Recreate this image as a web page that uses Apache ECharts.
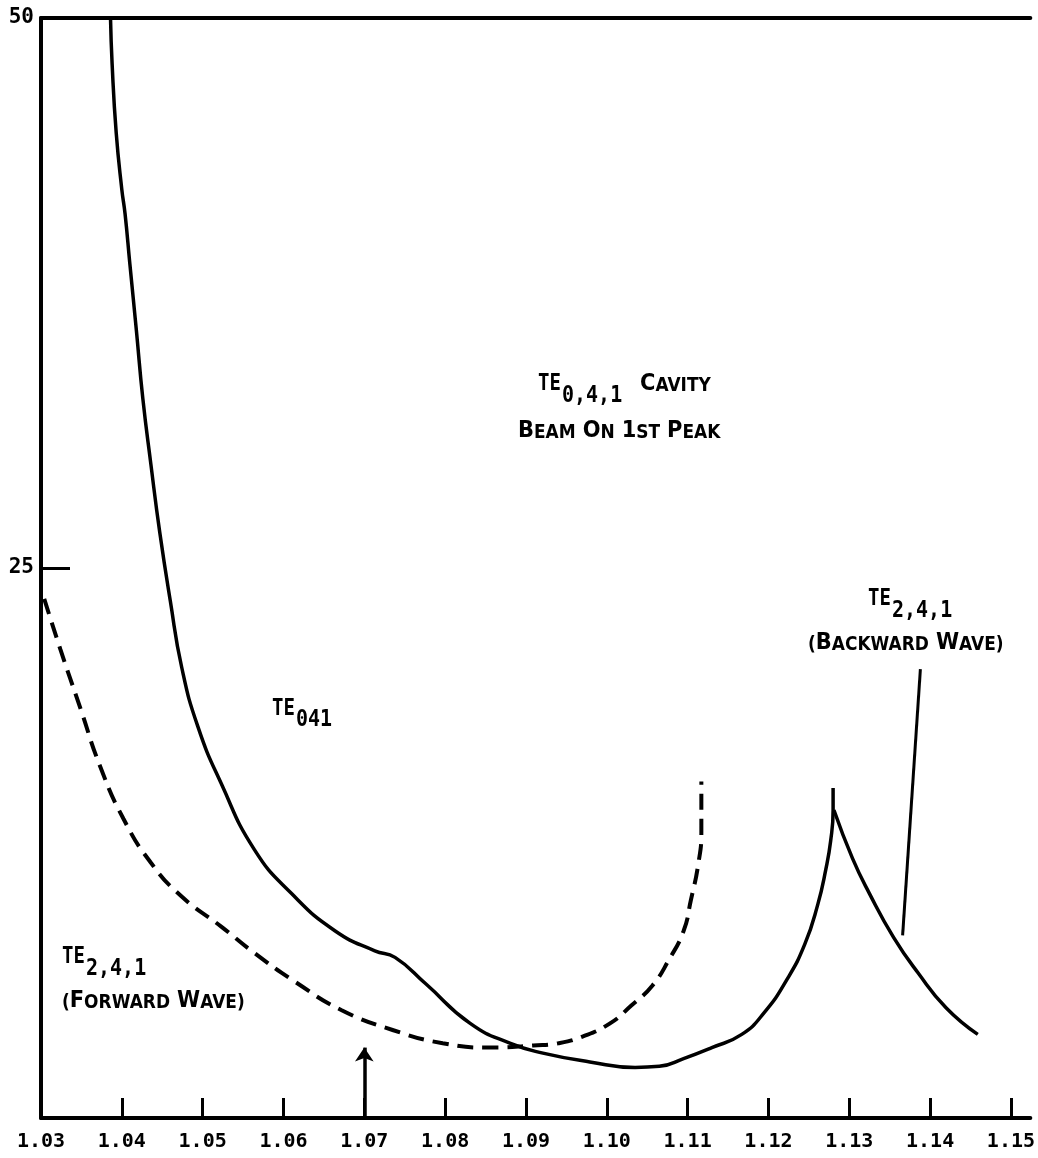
<!DOCTYPE html>
<html>
<head>
<meta charset="utf-8">
<script src="https://cdn.jsdelivr.net/npm/echarts@6/dist/echarts.min.js"></script>
<style>
  html, body { margin: 0; padding: 0; background: #fff; }
  #chart { width: 1038px; height: 1158px; }
</style>
</head>
<body>
<div id="chart"></div>
<script>
// ---- data ----
const xTickValues = [1.04, 1.05, 1.06, 1.07, 1.08, 1.09, 1.10, 1.11, 1.12, 1.13, 1.14, 1.15];
const xLabelValues = [1.03, 1.04, 1.05, 1.06, 1.07, 1.08, 1.09, 1.10, 1.11, 1.12, 1.13, 1.14, 1.15];
const xTickLabels = ['1.03', '1.04', '1.05', '1.06', '1.07', '1.08', '1.09', '1.10', '1.11', '1.12', '1.13', '1.14', '1.15'];
const yTickValues = [25];
const yLabelValues = [25, 50];
const yTickLabels = ['25', '50'];

// TE041 (solid), ends in the spike near 1.128
const te041X = [1.0386, 1.0388, 1.0393, 1.0400, 1.0404, 1.0410, 1.0418, 1.0426, 1.0436, 1.0447, 1.0460, 1.0474, 1.0494, 1.0523, 1.0564, 1.0610, 1.0664, 1.0713, 1.0738, 1.0776, 1.0831, 1.0880, 1.0921, 1.0979, 1.1035, 1.1065, 1.1095, 1.1130, 1.1167, 1.1195, 1.1223, 1.1245, 1.1261, 1.1271, 1.1277, 1.1280, 1.1280];
const te041Y = [50, 47.9, 44.8, 42.2, 41.1, 38.8, 35.8, 32.7, 29.7, 26.6, 23.5, 20.5, 17.8, 15.2, 12.2, 10.2, 8.5, 7.6, 7.3, 6.1, 4.3, 3.4, 2.95, 2.55, 2.3, 2.35, 2.7, 3.2, 3.8, 4.8, 6.3, 7.9, 9.7, 11.3, 12.6, 14.0, 15.0];

// TE2,4,1 backward wave (solid, right branch)
const te241bX = [1.1281, 1.1304, 1.1325, 1.1355, 1.1385, 1.1420, 1.1459];
const te241bY = [14.0, 11.8, 10.2, 8.2, 6.6, 5.0, 3.8];

// TE2,4,1 forward wave (dashed)
const te241fX = [1.0304, 1.0324, 1.0349, 1.0373, 1.0402, 1.0436, 1.0473, 1.0523, 1.0564, 1.0614, 1.0672, 1.0735, 1.0797, 1.0859, 1.0909, 1.0940, 1.0970, 1.1004, 1.1030, 1.1056, 1.1077, 1.1095, 1.1104, 1.1113, 1.1117, 1.1117];
const te241fY = [23.6, 21.3, 18.6, 16.0, 13.6, 11.6, 10.1, 8.7, 7.5, 6.2, 4.9, 4.0, 3.4, 3.2, 3.3, 3.4, 3.7, 4.3, 5.1, 6.0, 7.2, 8.5, 9.9, 11.5, 13.0, 15.3];

// arrow at beam position and leader line to backward-wave label
const arrowX = 1.07;
const arrowY = [0, 3.2];
const leaderX = [1.1366, 1.1388];
const leaderY = [8.3, 20.4];

// ---- chart ----
const MONO = '"DejaVu Sans Mono", "Liberation Mono", monospace';
const SANS = '"DejaVu Sans", "Liberation Sans", sans-serif';
const zip = (xs, ys) => xs.map((x, i) => [x, ys[i]]);

const bigS = { fontFamily: SANS, fontWeight: 'bold', fontSize: 21, color: '#000', verticalAlign: 'bottom', lineHeight: 24 };
const smS = { fontFamily: SANS, fontWeight: 'bold', fontSize: 17, color: '#000', verticalAlign: 'bottom', lineHeight: 24 };
function txt(left, top, text, size, sy) {
  return { type: 'text', left: left, top: top, silent: true, scaleY: sy || 1,
    style: { text: text, font: 'bold ' + size + 'px ' + MONO, fill: '#000' } };
}
function rich(left, top, text) {
  return { type: 'text', left: left, top: top, silent: true, scaleY: 1.1,
    style: { text: text, rich: { b: bigS, s: smS }, fill: '#000', font: 'bold 20px ' + SANS } };
}

const chart = echarts.init(document.getElementById('chart'));
chart.setOption({
  animation: false,
  backgroundColor: '#fff',
  grid: { left: 41, right: 0, top: 18, bottom: 40 },
  xAxis: [{
    type: 'value', min: 1.03, max: 1.1524, position: 'bottom',
    axisLine: { lineStyle: { color: '#000', width: 4 } },
    axisTick: { show: true, inside: true, length: 20, customValues: xTickValues, lineStyle: { color: '#000', width: 3 } },
    axisLabel: { show: true, customValues: xLabelValues, margin: 14, color: '#000',
      fontFamily: MONO, fontWeight: 'bold', fontSize: 20,
      formatter: v => xTickLabels[Math.round((v - 1.03) * 100)] },
    splitLine: { show: false }
  }, {
    type: 'value', min: 1.03, max: 1.1524, position: 'top',
    axisLine: { lineStyle: { color: '#000', width: 4 } },
    axisTick: { show: false }, axisLabel: { show: false }, splitLine: { show: false }
  }],
  yAxis: {
    type: 'value', min: 0, max: 50,
    axisLine: { show: true, lineStyle: { color: '#000', width: 4 } },
    axisTick: { show: true, inside: true, length: 29, customValues: yTickValues, lineStyle: { color: '#000', width: 3 } },
    axisLabel: { show: true, customValues: yLabelValues, margin: 7, color: '#000',
      fontFamily: MONO, fontWeight: 'bold', fontSize: 21,
      formatter: v => yTickLabels[yLabelValues.indexOf(v)] },
    splitLine: { show: false }
  },
  series: [{
    type: 'line', name: 'TE041', data: zip(te041X, te041Y), showSymbol: false, smooth: 0.5,
    lineStyle: { color: '#000', width: 3.5 }, silent: true
  }, {
    type: 'line', name: 'TE241 backward', data: zip(te241bX, te241bY), showSymbol: false, smooth: 0.5,
    lineStyle: { color: '#000', width: 3.5 }, silent: true,
    markLine: {
      silent: true, symbol: ['none', 'none'], label: { show: false },
      lineStyle: { color: '#000', width: 3, type: 'solid' },
      data: [[{ coord: [leaderX[0], leaderY[0]] }, { coord: [leaderX[1], leaderY[1]] }]]
    }
  }, {
    type: 'line', name: 'TE241 forward', data: zip(te241fX, te241fY), showSymbol: false, smooth: 0.5,
    lineStyle: { color: '#000', width: 4, type: [16, 9] }, silent: true,
    markLine: {
      silent: true, symbol: ['none', 'arrow'], symbolSize: 14, label: { show: false },
      lineStyle: { color: '#000', width: 3.5, type: 'solid' },
      data: [[{ coord: [arrowX, arrowY[0]] }, { coord: [arrowX, arrowY[1]] }]]
    }
  }],
  graphic: [
    txt(538, 372, 'TE', 19, 1.25),
    txt(562, 385, '0,4,1', 20, 1.15),
    rich(640, 372, '{b|C}{s|AVITY}'),
    rich(518, 418, '{b|B}{s|EAM} {b|O}{s|N} {b|1}{s|ST} {b|P}{s|EAK}'),
    txt(272, 697, 'TE', 19, 1.25),
    txt(296, 709, '041', 20, 1.15),
    txt(868, 587, 'TE', 19, 1.25),
    txt(892, 600, '2,4,1', 20, 1.15),
    rich(808, 630, '{s|(}{b|B}{s|ACKWARD} {b|W}{s|AVE}{s|)}'),
    txt(62, 945, 'TE', 19, 1.25),
    txt(86, 958, '2,4,1', 20, 1.15),
    rich(62, 988, '{s|(}{b|F}{s|ORWARD} {b|W}{s|AVE}{s|)}')
  ]
});
</script>
</body>
</html>
